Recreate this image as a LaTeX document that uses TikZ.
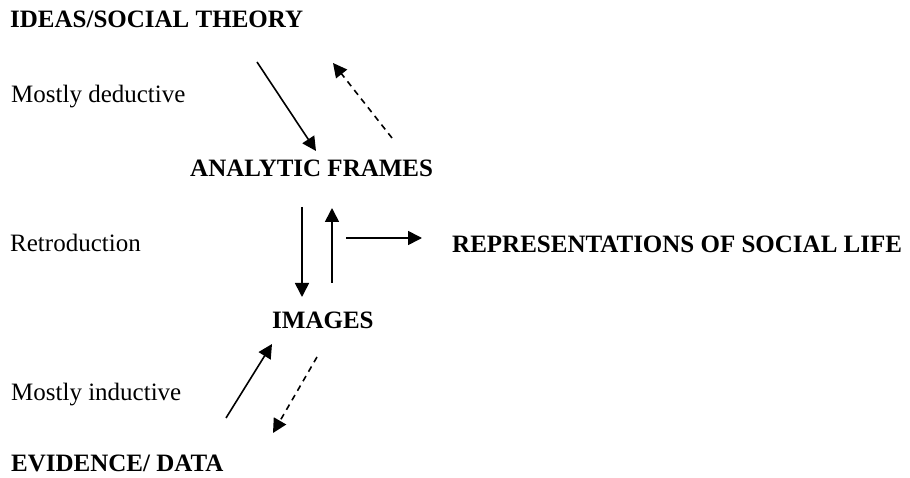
\documentclass[tikz,border=0pt]{standalone}
\usepackage{fontspec}
\setmainfont{Liberation Serif}
\usetikzlibrary{arrows.meta,positioning}

\begin{document}
\begin{tikzpicture}[x=1pt,y=-1pt,
    lbl/.style={anchor=base west,inner sep=0pt,font=\fontsize{25}{30}\selectfont},
    head/.style={lbl,font=\fontsize{25}{30}\selectfont\bfseries},
    flow/.style={-{Triangle[length=14pt,width=14pt]},line width=1.6pt},
    back/.style={flow,dash pattern=on 6pt off 5pt}]
  \useasboundingbox (0,0) rectangle (910,478);
  % texts
  \node[head] (theory) at (10,28) {IDEAS/SOCIAL THEORY};
  \node[lbl] (deduct) at (11,103) {Mostly deductive};
  \node[head] (frames) at (190,177) {ANALYTIC FRAMES};
  \node[lbl] (retro) at (10,252) {Retroduction};
  \node[head] (repr) at (452,253) {REPRESENTATIONS OF SOCIAL LIFE};
  \node[head] (images) at (272,328) {IMAGES};
  \node[lbl] (induct) at (11,400) {Mostly inductive};
  \node[head] (data) at (11,471) {EVIDENCE/ DATA};
  % arrow ends
  \coordinate (t1) at (257,62);   \coordinate (f1) at (316,151);
  \coordinate (f2) at (392,138);  \coordinate (t2) at (333,63);
  \coordinate (f3) at (302,207);  \coordinate (i3) at (302,297);
  \coordinate (i4) at (332,283);  \coordinate (f4) at (332,208);
  \coordinate (s5) at (346,238);  \coordinate (r5) at (422,238);
  \coordinate (d6) at (226,418);  \coordinate (i6) at (272,344);
  \coordinate (i7) at (317,357);  \coordinate (d7) at (273,433);
  % arrows
  \draw[flow] (t1) -- (f1);
  \draw[back] (f2) -- (t2);
  \draw[flow] (f3) -- (i3);
  \draw[flow] (i4) -- (f4);
  \draw[flow] (s5) -- (r5);
  \draw[flow] (d6) -- (i6);
  \draw[back] (i7) -- (d7);
\end{tikzpicture}
\end{document}
